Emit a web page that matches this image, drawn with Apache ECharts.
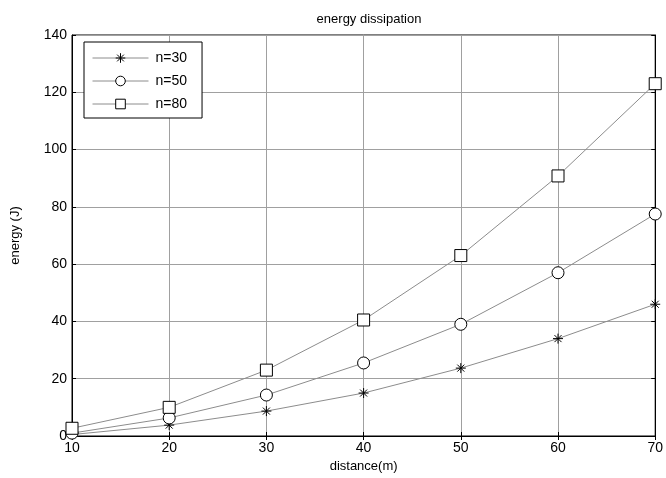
<!DOCTYPE html>
<html>
<head>
<meta charset="utf-8">
<script src="https://cdn.jsdelivr.net/npm/echarts@6/dist/echarts.min.js"></script>
<style>
  html, body { margin: 0; padding: 0; background: #fff; }
  #chart { width: 666px; height: 478px; }
</style>
</head>
<body>
<div id="chart"></div>
<script>
  var distance = [10, 20, 30, 40, 50, 60, 70];
  var n30 = [0.5, 3.8, 8.7, 15, 23.7, 34, 46];
  var n50 = [1, 6.3, 14.3, 25.5, 39, 57, 77.5];
  var n80 = [2.7, 10, 23, 40.5, 63, 90.8, 123];

  var star = 'path://M0,-10L0,10M-10,0L10,0M-7,-7L7,7M-7,7L7,-7';
  var font = 'Liberation Sans';

  function pairs(ys) {
    return distance.map(function (x, i) { return [x, ys[i]]; });
  }

  function mkSeries(name, ys, symbol, size) {
    return {
      name: name,
      type: 'line',
      data: pairs(ys),
      symbol: symbol,
      symbolSize: size,
      showAllSymbol: true,
      lineStyle: { color: '#8c8c8c', width: 1 },
      itemStyle: { color: '#fff', borderColor: '#000', borderWidth: 1 },
      emphasis: { disabled: true }
    };
  }

  var chart = echarts.init(document.getElementById('chart'));
  var option = {
    animation: false,
    title: {
      text: 'energy dissipation',
      left: 364,
      top: 8,
      textAlign: 'center',
      textStyle: { fontFamily: font, fontSize: 13, fontWeight: 'normal', color: '#000' }
    },
    legend: {
      left: 84,
      top: 42,
      orient: 'vertical',
      itemWidth: 56,
      itemHeight: 12,
      itemGap: 9,
      padding: [9, 15, 7, 8],
      borderColor: '#000',
      borderWidth: 1,
      backgroundColor: '#fff',
      itemStyle: { borderWidth: 1 },
      lineStyle: { width: 1 },
      textStyle: { fontFamily: font, fontSize: 14, color: '#000', padding: [0, 0, 0, 2] },
      data: ['n=30', 'n=50', 'n=80']
    },
    grid: { left: 72, right: 10, top: 35, bottom: 42, show: true, borderColor: '#000', borderWidth: 1 },
    xAxis: [{
      type: 'value',
      min: 10, max: 70, interval: 10,
      name: 'distance(m)',
      nameLocation: 'middle',
      nameGap: 24,
      nameTextStyle: { fontFamily: font, fontSize: 13, color: '#000' },
      axisLine: { lineStyle: { color: '#000' } },
      axisTick: { inside: true, length: 4, lineStyle: { color: '#000' } },
      axisLabel: { fontFamily: font, fontSize: 14, color: '#000', margin: 5 },
      splitLine: { show: true, lineStyle: { color: '#a0a0a0', width: 1 } }
    }, {
      type: 'value', position: 'top',
      min: 10, max: 70, interval: 10,
      axisLine: { show: true, lineStyle: { color: '#000' } },
      axisTick: { inside: true, length: 4, lineStyle: { color: '#000' } },
      axisLabel: { show: false },
      splitLine: { show: false }
    }],
    yAxis: [{
      type: 'value',
      min: 0, max: 140, interval: 20,
      name: 'energy (J)',
      nameLocation: 'middle',
      nameGap: 50,
      nameTextStyle: { fontFamily: font, fontSize: 13, color: '#000' },
      axisLine: { show: true, lineStyle: { color: '#000' } },
      axisTick: { show: true, inside: true, length: 4, lineStyle: { color: '#000' } },
      axisLabel: { fontFamily: font, fontSize: 14, color: '#000', margin: 5 },
      splitLine: { show: true, lineStyle: { color: '#a0a0a0', width: 1 } }
    }, {
      type: 'value', position: 'right',
      min: 0, max: 140, interval: 20,
      axisLine: { show: true, lineStyle: { color: '#000' } },
      axisTick: { show: true, inside: true, length: 4, lineStyle: { color: '#000' } },
      axisLabel: { show: false },
      splitLine: { show: false }
    }],
    series: [
      mkSeries('n=30', n30, star, 10),
      mkSeries('n=50', n50, 'circle', 12),
      mkSeries('n=80', n80, 'rect', 12)
    ]
  };
  chart.setOption(option);
</script>
</body>
</html>
